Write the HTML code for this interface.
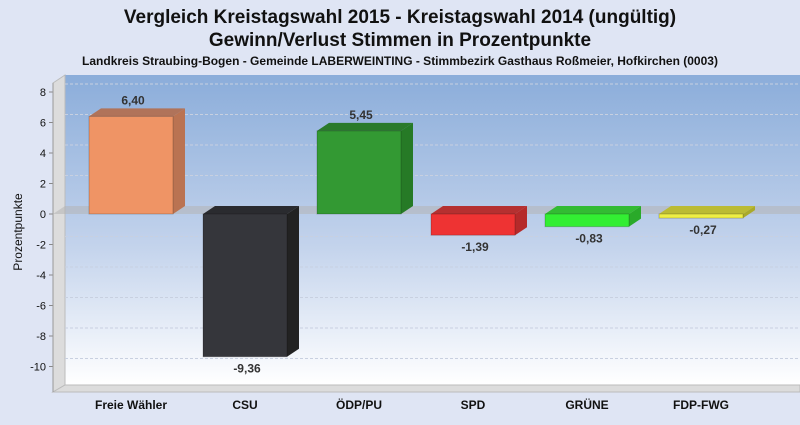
<!DOCTYPE html>
<html><head><meta charset="utf-8"><style>
body{margin:0;width:800px;height:420px;background:#dfe5f4;font-family:"Liberation Sans",sans-serif;overflow:hidden}
</style></head><body>
<svg width="800" height="420" xmlns="http://www.w3.org/2000/svg">
<defs>
<linearGradient id="bg" x1="0" y1="0" x2="0" y2="1">
<stop offset="0" stop-color="#8badda"/><stop offset="0.55" stop-color="#c3d3ec"/><stop offset="1" stop-color="#ffffff"/>
</linearGradient>
</defs>
<text x="400" y="23" text-anchor="middle" font-size="19" font-weight="bold" fill="#111">Vergleich Kreistagswahl 2015 - Kreistagswahl 2014 (ungültig)</text>
<text x="400" y="46" text-anchor="middle" font-size="19" font-weight="bold" fill="#111">Gewinn/Verlust Stimmen in Prozentpunkte</text>
<text x="400" y="65" text-anchor="middle" font-size="12" font-weight="bold" fill="#111">Landkreis Straubing-Bogen - Gemeinde LABERWEINTING - Stimmbezirk Gasthaus Roßmeier, Hofkirchen (0003)</text>
<rect x="65" y="75" width="735" height="310" fill="url(#bg)"/>
<polygon points="53,83 65,75 65,385 53,392" fill="#dcdcdc" stroke="#bbb"/>
<polygon points="53,392 65,385 800,385 800,392" fill="#dcdcdc" stroke="#bbb"/>
<g id="grid"></g>
<g id="yaxis"></g>
<g id="bars"></g>
<text transform="translate(22,232) rotate(-90)" text-anchor="middle" font-size="12" fill="#111">Prozentpunkte</text>
<script>
const categories=["Freie Wähler","CSU","ÖDP/PU","SPD","GRÜNE","FDP-FWG"];
const values=[6.40,-9.36,5.45,-1.39,-0.83,-0.27];
const labels=["6,40","-9,36","5,45","-1,39","-0,83","-0,27"];
const yTicks=[8,6,4,2,0,-2,-4,-6,-8,-10];
const colors=[["#ef9465","#b0735a","#ba7352"],["#35363b","#2a2b2f","#222"],["#339933","#2a7a2a","#267a26"],["#ee3333","#b53030","#b52a2a"],["#33ee33","#33bb33","#2aaa2a"],["#eeee44","#bbbb33","#aaaa2a"]];
const NS="http://www.w3.org/2000/svg";
const y=v=>214-v*15.25;
const xc=i=>131+i*114;
const DX=12,DY=8;
function mk(t,a,p){const e=document.createElementNS(NS,t);for(const k in a)e.setAttribute(k,a[k]);p.appendChild(e);return e;}
const g=document.getElementById('grid'),ya=document.getElementById('yaxis'),b=document.getElementById('bars');
yTicks.forEach(t=>{
 const l=mk('line',{x1:65,x2:800,y1:y(t)-DY,y2:y(t)-DY,stroke:t===0?'none':'#c8d0e0','stroke-dasharray':'3,2','stroke-width':1},g);
 
 
 const tk=mk('line',{x1:49,x2:53,y1:y(t),y2:y(t),stroke:'#888'},ya);
 
 
 const tx=mk('text',{x:46,y:y(t)+4,'text-anchor':'end','font-size':11,fill:'#111'},ya);
 tx.textContent=t;
 
 
});
const zp=mk('polygon',{points:`53,${y(0)} ${53+DX},${y(0)-DY} 800,${y(0)-DY} 800,${y(0)}`,fill:'rgba(180,180,180,0.55)'},g);


mk('line',{x1:53,x2:53,y1:83,y2:392,stroke:'#999'},ya);
categories.forEach((c,i)=>{
 const v=values[i],x0=xc(i)-42,x1=xc(i)+42,yt=Math.min(y(v),y(0)),yb=Math.max(y(v),y(0));
 const grp=mk('g',{},b);
 
 
 mk('polygon',{points:`${x1},${yt} ${x1+DX},${yt-DY} ${x1+DX},${yb-DY} ${x1},${yb}`,fill:colors[i][2]},grp);
 mk('polygon',{points:`${x0},${yt} ${x0+DX},${yt-DY} ${x1+DX},${yt-DY} ${x1},${yt}`,fill:colors[i][1]},grp);
 mk('rect',{x:x0,y:yt,width:84,height:yb-yt,fill:colors[i][0],stroke:'rgba(0,0,0,0.2)'},grp);
 const lt=mk('text',{x:xc(i)+2,y:v>=0?y(v)-12:y(v)+16,'text-anchor':'middle','font-size':12,'font-weight':'bold',fill:'#333'},b);
 lt.textContent=labels[i];
 
 
 const ct=mk('text',{x:xc(i),y:409,'text-anchor':'middle','font-size':12,'font-weight':'bold',fill:'#111'},b);
 ct.textContent=c;
 
 
});
</script>
</svg>
</body></html>
